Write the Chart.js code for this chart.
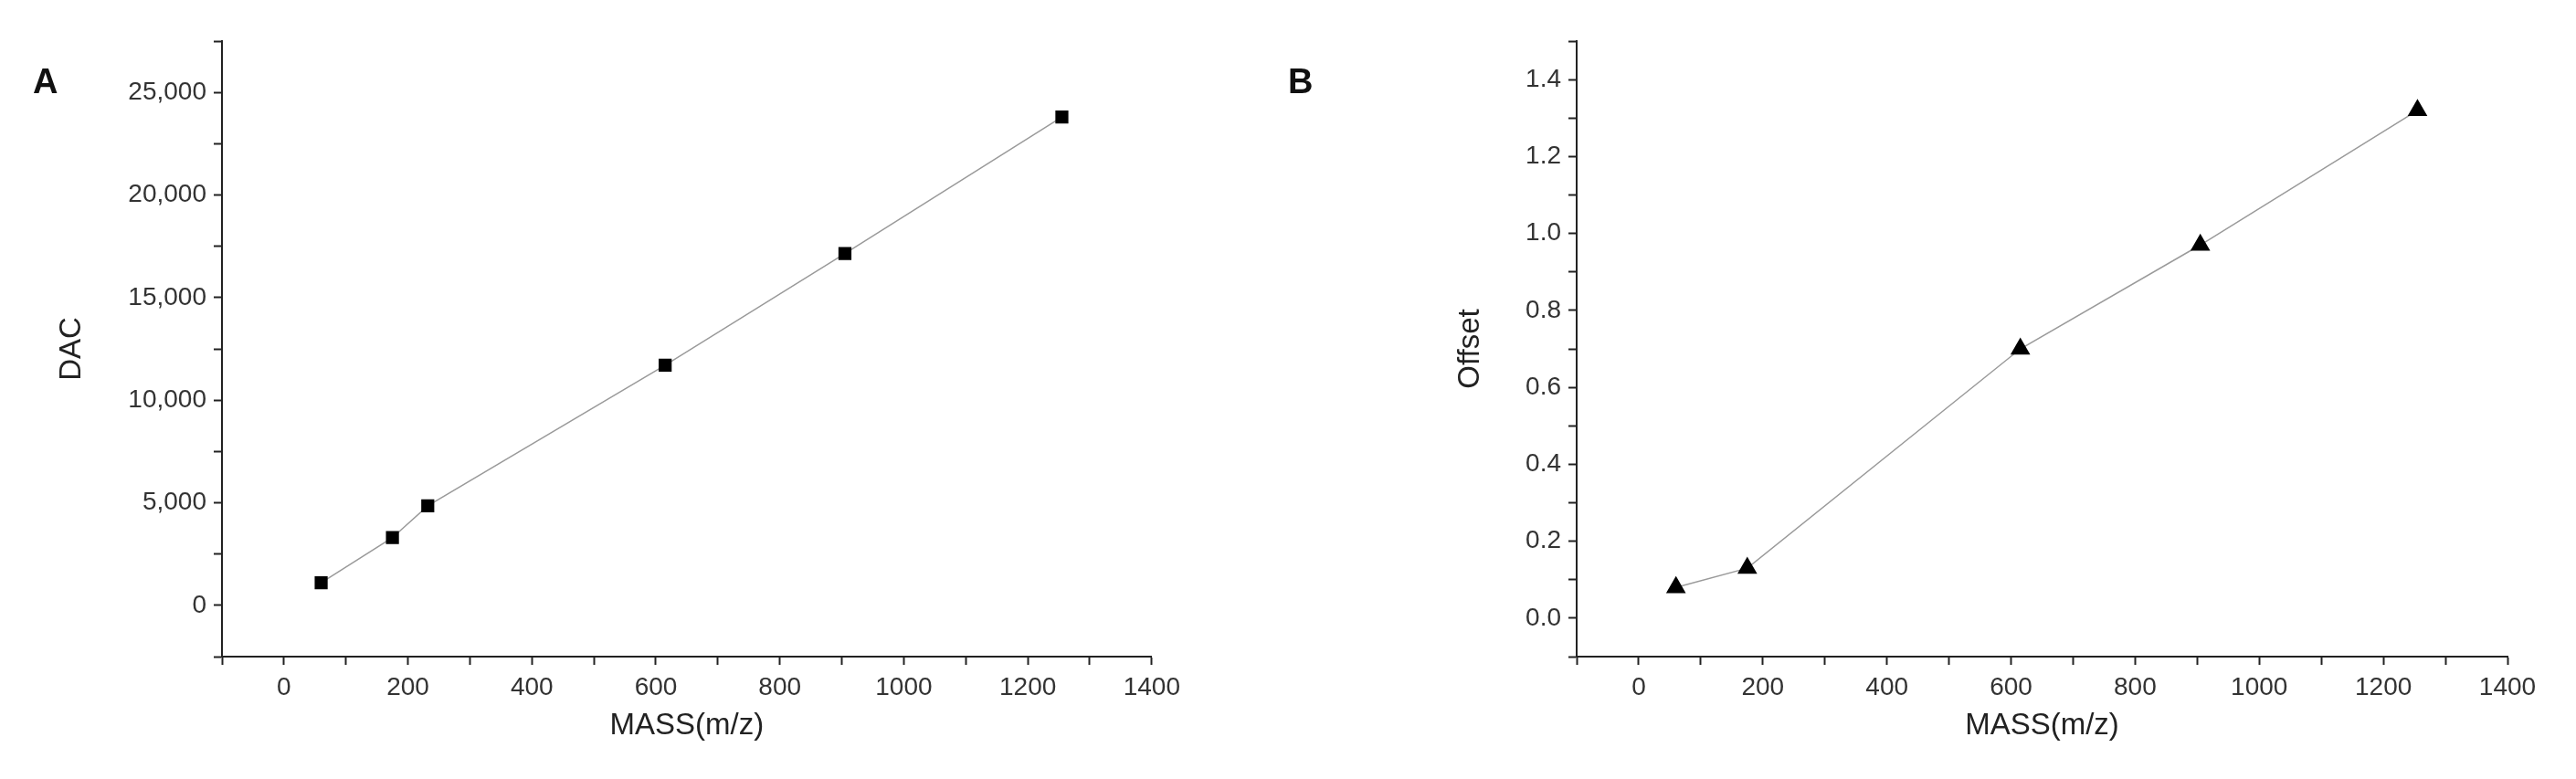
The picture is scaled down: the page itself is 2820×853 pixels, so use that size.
<!DOCTYPE html><html><head><script src="https://cdn.jsdelivr.net/npm/chart.js@4"></script>
<style>body{margin:0;background:#fff;width:2820px;height:853px;position:relative;overflow:hidden}
.w{position:absolute;top:0;height:853px}.lbl{position:absolute;font:bold 38px "Liberation Sans",Arial;color:#111}</style></head><body>
<div class="w" style="left:0;width:1300px"><canvas id="a"></canvas></div>
<div class="w" style="left:1410px;width:1410px"><canvas id="b"></canvas></div>
<div class="lbl" style="left:36px;top:68px">A</div><div class="lbl" style="left:1410px;top:68px">B</div>
<script>
const massA=[60,175,232,615,905,1255];
const dacA=[1100,3300,4850,11700,17150,23800];
const massB=[60,175,615,905,1255];
const offsetB=[0.08,0.13,0.70,0.97,1.32];
const F={family:'"Liberation Sans",Arial',size:28};
function mk(id,xs,ys,yTitle,ymin,ymax,ystep,ymaj,fmt,shape,lp,yw,rp){
 new Chart(document.getElementById(id),{type:'scatter',data:{datasets:[{data:xs.map((x,i)=>({x,y:ys[i]})),showLine:true,borderColor:'#9a9a9a',borderWidth:1.5,pointStyle:shape,pointRadius:shape==='rect'?9:11,pointBackgroundColor:'#000',pointBorderColor:'#000'}]},
 options:{responsive:true,maintainAspectRatio:false,animation:false,layout:{padding:{top:45,right:rp,left:lp,bottom:34}},plugins:{legend:{display:false},tooltip:{enabled:false}},
 scales:{x:{type:'linear',min:-100,max:1400,afterFit:s=>{s.height=100},border:{color:'#222',width:2},grid:{drawOnChartArea:false,tickLength:9,color:'#222',tickWidth:2},
  ticks:{stepSize:100,color:'#333',font:F,maxRotation:0,autoSkip:false,padding:8,callback:v=>(v>=0&&v%200===0)?String(v):''},title:{display:true,text:'MASS(m/z)',color:'#222',font:{family:F.family,size:33},padding:{top:6}}},
 y:{min:ymin,max:ymax,afterFit:s=>{s.width=yw},border:{color:'#222',width:2},grid:{drawOnChartArea:false,tickLength:9,color:'#222',tickWidth:2},
  ticks:{stepSize:ystep,color:'#333',font:F,autoSkip:false,padding:8,callback:v=>(Math.abs(Math.round(v/ymaj)*ymaj-v)<1e-6 && v>=0 && v<=ymax-ystep+1e-9)?fmt(v):''},
  title:{display:true,text:yTitle,color:'#222',font:{family:F.family,size:33},padding:{bottom:0}}}}}});
}
mk('a',massA,dacA,'DAC',-2500,27500,2500,5000,v=>v.toLocaleString('en-US'),'rect',55,188,32);
mk('b',massB,offsetB,'Offset',-0.1,1.5,0.1,0.2,v=>v.toFixed(1),'triangle',176,140,75);
</script></body></html>
